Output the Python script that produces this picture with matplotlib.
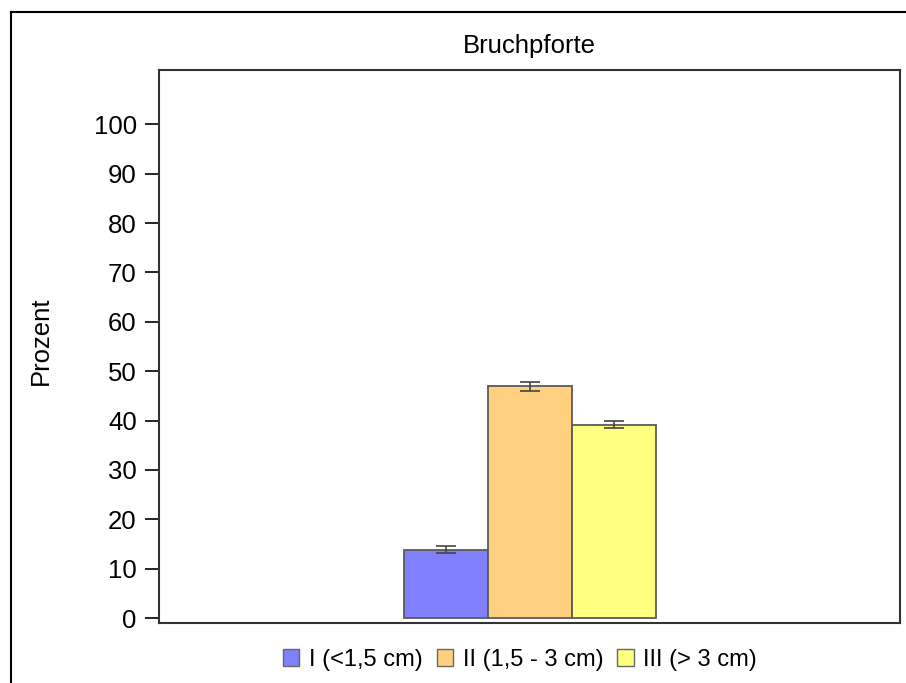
import matplotlib.pyplot as plt
from matplotlib.lines import Line2D
from matplotlib.patches import Patch

plt.rcParams['font.family'] = ['Liberation Sans', 'DejaVu Sans']

# Daten
kategorien = ['I (<1,5 cm)', 'II (1,5 - 3 cm)', 'III (> 3 cm)']
werte = [13.8, 46.9, 39.2]
fehler = [0.7, 1.0, 0.8]
farben = ['#8080FF', '#FFD080', '#FFFF80']
yticks = [0, 10, 20, 30, 40, 50, 60, 70, 80, 90, 100]

fig = plt.figure(figsize=(9.06, 6.83), dpi=100)
ax = fig.add_axes([159 / 906, 1 - 623 / 683, 741 / 906, 553 / 683])

# Balken
breite = 1.0
pos = [-breite, 0, breite]
for p, w, e, c in zip(pos, werte, fehler, farben):
    ax.bar(p, w, width=breite, color=c, edgecolor='#5a5a5a', linewidth=1.3)
    ax.errorbar(p, w, yerr=e, fmt='none', ecolor='#444444', elinewidth=1.2, capsize=7, capthick=1.2)

ax.set_xlim(-741 / 84 / 2, 741 / 84 / 2)
ax.set_ylim(-1, 111)
ax.set_yticks(yticks)
ax.set_xticks([])
ax.tick_params(axis='y', direction='out', length=10, width=1.2, pad=6, labelsize=18.5)
for s in ax.spines.values():
    s.set_linewidth(1.5)
    s.set_color('#333333')

ax.set_ylabel('Prozent', fontsize=18.5)
ax.yaxis.set_label_coords(-0.143, 0.51)
ax.set_title('Bruchpforte', fontsize=18.5, pad=12)

# Legende
handles = [Patch(facecolor=c, edgecolor='#666666', label=k) for c, k in zip(farben, kategorien)]
fig.legend(handles=handles, loc='center', bbox_to_anchor=(520 / 906, 1 - 660 / 683), ncol=3,
           frameon=False, fontsize=17, handlelength=0.7, handleheight=0.7,
           handletextpad=0.4, columnspacing=0.6)

# Rahmen
fig.add_artist(Line2D([11 / 906, 1], [1 - 12 / 683, 1 - 12 / 683], color='black', lw=1.5))
fig.add_artist(Line2D([11 / 906, 11 / 906], [0, 1 - 12 / 683], color='black', lw=1.5))

plt.savefig('out.png', dpi=100)
